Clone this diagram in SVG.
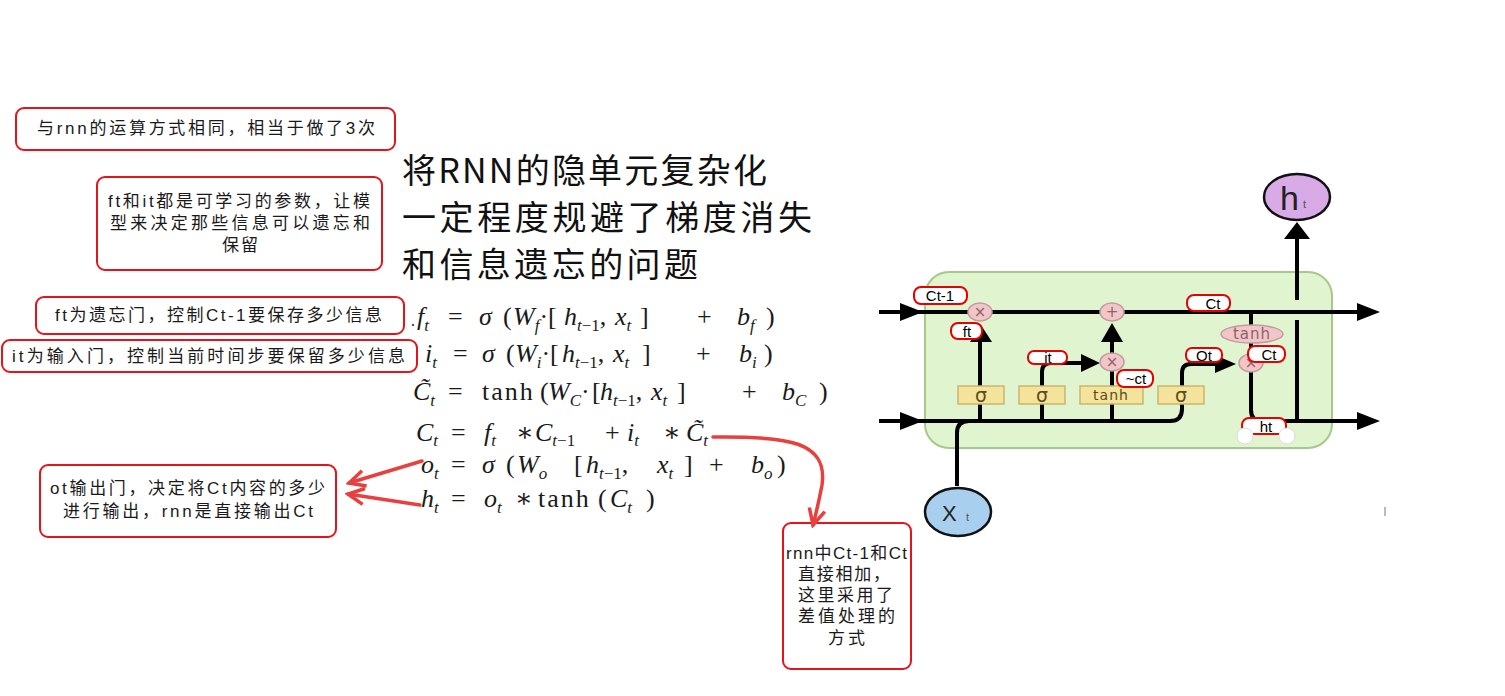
<svg xmlns="http://www.w3.org/2000/svg" width="1505" height="696" viewBox="0 0 1505 696">
<defs>
<style>
.note{font-family:"Liberation Sans","Noto Sans CJK SC",sans-serif;font-size:17px;fill:#1a1a1a}
.title{font-family:"Noto Sans CJK SC",sans-serif;font-size:34px;fill:#111}
.nbox{fill:#fff;stroke:#e3141b;stroke-width:2}
.eq{font-family:"Liberation Serif","DejaVu Serif",serif;font-size:26px;fill:#1a1a1a}
.i{font-style:italic}
.s{font-size:17px}
.wire{fill:none;stroke:#000;stroke-width:4;stroke-linejoin:round}
.head{fill:#000}
.gate{fill:#f4e39a;stroke:#cbb56c;stroke-width:1.5}
.gtxt{font-family:"DejaVu Sans",sans-serif;fill:#5d4b1c;text-anchor:middle}
.op{fill:#f2c5c9;stroke:#c29c9f;stroke-width:1.5}
.optxt{font-family:"DejaVu Sans",sans-serif;font-size:15px;fill:#8c6466;text-anchor:middle}
.lbl{fill:#fff;stroke:#e60000;stroke-width:2}
.ltxt{font-family:"Liberation Sans",sans-serif;font-size:15px;fill:#000;text-anchor:middle}
.red{fill:none;stroke:#e8403f;stroke-width:3.5;stroke-linecap:round}
</style>
<marker id="rarrow" markerUnits="userSpaceOnUse" markerWidth="22" markerHeight="22" viewBox="0 0 22 22" refX="19" refY="11" orient="auto">
<path d="M3,3 L19,11 L3,19" fill="none" stroke="#e8403f" stroke-width="3.5"/>
</marker>
</defs>
<rect width="1505" height="696" fill="#fff"/>

<!-- annotation notes -->
<g id="note-rnn3">
<rect class="nbox" x="16" y="108" width="379" height="42" rx="8"/>
<text class="note" x="37" y="134" textLength="338" lengthAdjust="spacing">与rnn的运算方式相同，相当于做了3次</text>
</g>
<g id="note-params">
<rect class="nbox" x="97" y="177" width="285" height="93" rx="8"/>
<text class="note" x="108" y="207" textLength="262" lengthAdjust="spacing">ft和it都是可学习的参数，让模</text>
<text class="note" x="110" y="229" textLength="260" lengthAdjust="spacing">型来决定那些信息可以遗忘和</text>
<text class="note" x="222" y="251" textLength="36" lengthAdjust="spacing">保留</text>
</g>
<g id="note-forget">
<rect class="nbox" x="36" y="297" width="368" height="37" rx="8"/>
<text class="note" x="55" y="321" textLength="327" lengthAdjust="spacing">ft为遗忘门，控制Ct-1要保存多少信息</text>
</g>
<g id="note-input">
<rect class="nbox" x="2" y="340" width="415" height="32" rx="8"/>
<text class="note" x="12" y="362" textLength="393" lengthAdjust="spacing">it为输入门，控制当前时间步要保留多少信息</text>
</g>
<g id="note-output">
<rect class="nbox" x="40" y="465" width="296" height="72" rx="8"/>
<text class="note" x="50" y="494" textLength="275" lengthAdjust="spacing">ot输出门，决定将Ct内容的多少</text>
<text class="note" x="63" y="517" textLength="250" lengthAdjust="spacing">进行输出，rnn是直接输出Ct</text>
</g>
<g id="note-diff">
<rect class="nbox" x="783" y="523" width="128" height="146" rx="8"/>
<text class="note" x="786" y="559" textLength="121" lengthAdjust="spacing">rnn中Ct-1和Ct</text>
<text class="note" x="798" y="580" textLength="92" lengthAdjust="spacing">直接相加，</text>
<text class="note" x="798" y="601" textLength="95" lengthAdjust="spacing">这里采用了</text>
<text class="note" x="798" y="622" textLength="97" lengthAdjust="spacing">差值处理的</text>
<text class="note" x="828" y="644" textLength="37" lengthAdjust="spacing">方式</text>
</g>

<!-- title -->
<g id="title">
<text class="title" x="402" y="183" textLength="365" lengthAdjust="spacing">将RNN的隐单元复杂化</text>
<text class="title" x="402" y="230" textLength="410" lengthAdjust="spacing">一定程度规避了梯度消失</text>
<text class="title" x="402" y="277" textLength="296" lengthAdjust="spacing">和信息遗忘的问题</text>
</g>

<!-- equations -->
<g id="equations">
<text class="eq"><tspan class="i" x="417" y="325">f</tspan><tspan class="i s" y="331">t</tspan><tspan x="448" y="325">=</tspan><tspan class="i" x="479">σ</tspan><tspan x="503">(</tspan><tspan class="i" x="513">W</tspan><tspan class="i s" y="331">f</tspan><tspan y="325">·[</tspan><tspan class="i" x="564">h</tspan><tspan class="i s" y="331">t</tspan><tspan class="s">−1</tspan><tspan y="325">,</tspan><tspan class="i" x="615">x</tspan><tspan class="i s" y="331">t</tspan><tspan x="640" y="325">]</tspan><tspan x="697">+</tspan><tspan class="i" x="737">b</tspan><tspan class="i s" y="331">f</tspan><tspan x="766" y="325">)</tspan></text>
<text class="eq"><tspan class="i" x="425" y="362">i</tspan><tspan class="i s" y="368">t</tspan><tspan x="453" y="362">=</tspan><tspan class="i" x="482">σ</tspan><tspan x="506">(</tspan><tspan class="i" x="515">W</tspan><tspan class="i s" y="368">i</tspan><tspan y="362">·[</tspan><tspan class="i" x="562">h</tspan><tspan class="i s" y="368">t</tspan><tspan class="s">−1</tspan><tspan y="362">,</tspan><tspan class="i" x="613">x</tspan><tspan class="i s" y="368">t</tspan><tspan x="642" y="362">]</tspan><tspan x="696">+</tspan><tspan class="i" x="739">b</tspan><tspan class="i s" y="368">i</tspan><tspan x="764" y="362">)</tspan></text>
<text class="eq"><tspan class="i" x="413" y="400">C̃</tspan><tspan class="i s" y="406">t</tspan><tspan x="448" y="400">=</tspan><tspan x="482" letter-spacing="2">tanh</tspan><tspan x="540">(</tspan><tspan class="i" x="548">W</tspan><tspan class="i s" y="406">C</tspan><tspan y="400">·</tspan><tspan x="592">[</tspan><tspan class="i" x="600">h</tspan><tspan class="i s" y="406">t</tspan><tspan class="s">−1</tspan><tspan y="400">,</tspan><tspan class="i" x="651">x</tspan><tspan class="i s" y="406">t</tspan><tspan x="677" y="400">]</tspan><tspan x="742">+</tspan><tspan class="i" x="782">b</tspan><tspan class="i s" y="406">C</tspan><tspan x="819" y="400">)</tspan></text>
<text class="eq"><tspan class="i" x="416" y="441">C</tspan><tspan class="i s" y="446">t</tspan><tspan x="451" y="441">=</tspan><tspan class="i" x="484">f</tspan><tspan class="i s" y="446">t</tspan><tspan x="516" y="441">∗</tspan><tspan class="i" x="535">C</tspan><tspan class="i s" y="446">t</tspan><tspan class="s">−1</tspan><tspan x="605" y="441">+</tspan><tspan class="i" x="627">i</tspan><tspan class="i s" y="446">t</tspan><tspan x="663" y="441">∗</tspan><tspan class="i" x="686">C̃</tspan><tspan class="i s" y="446">t</tspan></text>
<text class="eq"><tspan class="i" x="421" y="473">o</tspan><tspan class="i s" y="479">t</tspan><tspan x="451" y="473">=</tspan><tspan class="i" x="482">σ</tspan><tspan x="506">(</tspan><tspan class="i" x="517">W</tspan><tspan class="i s" y="479">o</tspan><tspan x="574" y="473">[</tspan><tspan class="i" x="586">h</tspan><tspan class="i s" y="479">t</tspan><tspan class="s">−1</tspan><tspan y="473">,</tspan><tspan class="i" x="657">x</tspan><tspan class="i s" y="479">t</tspan><tspan x="684" y="473">]</tspan><tspan x="709">+</tspan><tspan class="i" x="751">b</tspan><tspan class="i s" y="479">o</tspan><tspan x="777" y="473">)</tspan></text>
<text class="eq"><tspan class="i" x="421" y="507">h</tspan><tspan class="i s" y="513">t</tspan><tspan x="451" y="507">=</tspan><tspan class="i" x="484">o</tspan><tspan class="i s" y="513">t</tspan><tspan x="515" y="507">∗</tspan><tspan x="538" letter-spacing="2">tanh</tspan><tspan x="598">(</tspan><tspan class="i" x="610">C</tspan><tspan class="i s" y="513">t</tspan><tspan x="646" y="507">)</tspan></text>
</g>

<!-- LSTM cell background -->
<g id="cell">
<rect x="925" y="272" width="407" height="176" rx="24" fill="#e0f4d0" stroke="#a6c88a" stroke-width="2"/>
</g>

<!-- connectors -->
<g id="connectors">
<path class="wire" d="M879 312 H1362"/>
<path class="wire" d="M879 421 H1170 Q1182 421 1182 409 V404"/>
<path class="wire" d="M980 421 V341"/>
<path class="wire" d="M1042 421 V372 Q1042 363 1051 363 H1083"/>
<path class="wire" d="M1112 421 V341"/>
<path class="wire" d="M1182 386 V373 Q1182 364 1191 364 H1217"/>
<path class="wire" d="M1251 312 V410 Q1251 421 1262 421 H1362"/>
<path class="wire" d="M1297 421 V320"/>
<path class="wire" d="M1297 300 V238"/>
<path class="wire" d="M957 486 V433 Q957 421 969 421"/>
<polygon class="head" points="900,303 923,312 900,321"/>
<polygon class="head" points="900,412 923,421 900,430"/>
<polygon class="head" points="1357,303 1380,312 1357,321"/>
<polygon class="head" points="1357,412 1380,421 1357,430"/>
<polygon class="head" points="970,342 981,325 992,342"/>
<polygon class="head" points="1101,342 1112,323 1123,342"/>
<polygon class="head" points="1081,354 1100,363 1081,372"/>
<polygon class="head" points="1215,355 1236,364 1215,373"/>
<polygon class="head" points="1284,239 1297,222 1310,239"/>
<path class="red" d="M713 437 C790 436 828 442 822 485 Q818 506 813 525" marker-end="url(#rarrow)"/>
<path class="red" d="M422 461 L349 483" marker-end="url(#rarrow)"/>
<path class="red" d="M420 505 L348 494" marker-end="url(#rarrow)"/>
</g>

<!-- gates -->
<g id="gate-forget"><rect class="gate" x="958" y="386" width="46" height="18"/><text class="gtxt" x="981" y="402" font-size="19">σ</text></g>
<g id="gate-input"><rect class="gate" x="1019" y="386" width="46" height="18"/><text class="gtxt" x="1042" y="402" font-size="19">σ</text></g>
<g id="gate-tanh"><rect class="gate" x="1080" y="386" width="63" height="18"/><text class="gtxt" x="1111" y="400" font-size="14" letter-spacing="1">tanh</text></g>
<g id="gate-output"><rect class="gate" x="1158" y="386" width="46" height="18"/><text class="gtxt" x="1181" y="402" font-size="19">σ</text></g>

<!-- pointwise ops -->
<g id="op-mul-forget"><ellipse class="op" cx="980" cy="312" rx="12" ry="9"/><text class="optxt" x="980" y="317">×</text></g>
<g id="op-add"><ellipse class="op" cx="1112" cy="312" rx="12" ry="9"/><text class="optxt" x="1112" y="317">+</text></g>
<g id="op-mul-input"><ellipse class="op" cx="1112" cy="362" rx="12" ry="9"/><text class="optxt" x="1112" y="367">×</text></g>
<g id="op-mul-output"><ellipse class="op" cx="1251" cy="363" rx="12" ry="9"/><text class="optxt" x="1251" y="368">×</text></g>
<g id="op-tanh"><ellipse class="op" cx="1252" cy="334" rx="31" ry="9"/><text class="optxt" x="1252" y="339" font-size="13" letter-spacing="1">tanh</text></g>

<!-- input / output nodes -->
<g id="node-ht"><ellipse cx="1297" cy="197" rx="33" ry="23" fill="#d8aae6" stroke="#111" stroke-width="2.5"/><text x="1280" y="210" font-family="Liberation Sans,sans-serif" font-size="34" fill="#222">h</text><text x="1303" y="208" font-family="Liberation Sans,sans-serif" font-size="11" fill="#555">t</text></g>
<g id="node-xt"><ellipse cx="958" cy="512" rx="33" ry="24" fill="#a9cfee" stroke="#111" stroke-width="2.5"/><text x="942" y="521" font-family="Liberation Sans,sans-serif" font-size="22" fill="#222">X</text><text x="966" y="521" font-family="Liberation Sans,sans-serif" font-size="11" fill="#555">t</text></g>

<!-- red labels -->
<g id="lbl-ct1"><rect class="lbl" x="914" y="287" width="53" height="17" rx="7"/><text class="ltxt" x="940" y="301">Ct-1</text></g>
<g id="lbl-ft"><rect class="lbl" x="951" y="323" width="31" height="16" rx="7"/><text class="ltxt" x="967" y="337">ft</text></g>
<g id="lbl-it"><rect class="lbl" x="1028" y="351" width="39" height="13" rx="6"/><text class="ltxt" x="1048" y="363">it</text></g>
<g id="lbl-ct-top"><rect class="lbl" x="1187" y="295" width="43" height="16" rx="7"/><text class="ltxt" x="1213" y="309">Ct</text></g>
<g id="lbl-ctilde"><rect class="lbl" x="1117" y="370" width="36" height="17" rx="7"/><text class="ltxt" x="1136" y="384">~ct</text></g>
<g id="lbl-ot"><rect class="lbl" x="1186" y="348" width="36" height="14" rx="6"/><text class="ltxt" x="1204" y="361">Ot</text></g>
<g id="lbl-ct-right"><rect class="lbl" x="1248" y="346" width="37" height="16" rx="7"/><text class="ltxt" x="1269" y="360">Ct</text></g>
<g id="lbl-ht"><rect class="lbl" x="1242" y="418" width="44" height="16" rx="7"/><text class="ltxt" x="1266" y="432">ht</text>
<circle cx="1245" cy="436" r="8" fill="#fff" stroke="#ddd" stroke-width="1"/><circle cx="1287" cy="436" r="8" fill="#fff" stroke="#ddd" stroke-width="1"/></g>

<!-- small marks -->
<circle cx="413" cy="325" r="1.2" fill="#555"/>
<rect x="1384" y="507" width="2" height="9" fill="#bbb"/>
</svg>
